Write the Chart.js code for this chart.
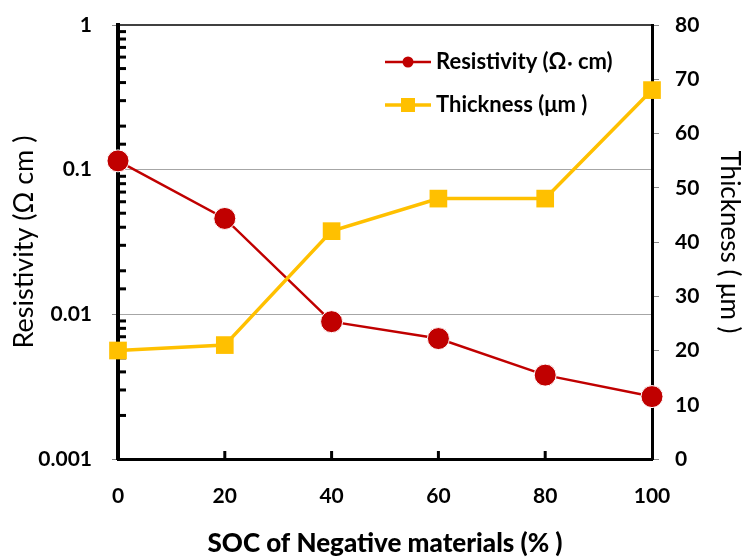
<!DOCTYPE html>
<html>
<head>
<meta charset="utf-8">
<script src="https://cdn.jsdelivr.net/npm/chart.js@4.4.0/dist/chart.umd.min.js"></script>
<style>
  html, body { margin: 0; padding: 0; background: #fff; }
  #wrap { width: 745px; height: 558px; position: relative; }
</style>
</head>
<body>
<div id="wrap"><canvas id="chart" width="745" height="558"></canvas></div>
<script>
// SOC levels and measured values
const socLevels = [0, 20, 40, 60, 80, 100];
const resistivity = [0.115, 0.046, 0.0089, 0.0068, 0.0038, 0.0027];
const thickness = [20, 21, 42, 48, 48, 68];

const seriesNames = ['Resistivity (Ω\u2027 cm)', 'Thickness (μm )'];
const axisTitles = ['SOC of Negative materials (% )', 'Resistivity (Ω cm )', 'Thickness ( μm )'];

const RED = '#C00000';
const GOLD = '#FFC000';
const FONT = 'Lato';

Chart.defaults.font.family = FONT;
Chart.defaults.color = '#000';

function isDecade(v) {
  const l = Math.log10(v);
  return Math.abs(l - Math.round(l)) < 1e-6;
}

// fixed axis width, no extra room reserved for the end labels
function fixWidth(w) {
  return scale => {
    scale.width = w;
    scale.paddingTop = 0;
    scale.paddingBottom = 0;
  };
}

// short tick marks pointing into the plot, plus the top frame line
const innerTicks = {
  id: 'innerTicks',
  beforeDatasetsDraw(chart) {
    const { ctx, chartArea, scales } = chart;
    ctx.save();
    ctx.strokeStyle = '#000';

    // minor log ticks on the left axis
    ctx.lineWidth = 3;
    scales.y.ticks.forEach(t => {
      if (isDecade(t.value)) return;
      const py = scales.y.getPixelForValue(t.value);
      ctx.beginPath();
      ctx.moveTo(chartArea.left, py);
      ctx.lineTo(chartArea.left + 8, py);
      ctx.stroke();
    });

    // x ticks pointing up
    scales.x.ticks.forEach(t => {
      if (t.value === 0 || t.value === 100) return;
      const px = scales.x.getPixelForValue(t.value);
      ctx.beginPath();
      ctx.moveTo(px, chartArea.bottom);
      ctx.lineTo(px, chartArea.bottom - 8);
      ctx.stroke();
    });

    // top frame
    ctx.lineWidth = 1.5;
    ctx.beginPath();
    ctx.moveTo(chartArea.left, chartArea.top);
    ctx.lineTo(chartArea.right, chartArea.top);
    ctx.stroke();
    ctx.restore();
  }
};

// legend drawn inside the plot, top right
const insideLegend = {
  id: 'insideLegend',
  afterDatasetsDraw(chart) {
    const { ctx } = chart;
    const rows = [
      { y: 62, color: RED, marker: 'circle', text: seriesNames[0] },
      { y: 105, color: GOLD, marker: 'rect', text: seriesNames[1] }
    ];
    ctx.save();
    rows.forEach(r => {
      ctx.strokeStyle = r.color;
      ctx.fillStyle = r.color;
      ctx.lineWidth = r.marker === 'circle' ? 2.5 : 3.5;
      ctx.beginPath();
      ctx.moveTo(385, r.y);
      ctx.lineTo(431, r.y);
      ctx.stroke();
      ctx.beginPath();
      if (r.marker === 'circle') {
        ctx.arc(408, r.y, 5.5, 0, Math.PI * 2);
      } else {
        ctx.rect(401, r.y - 7, 14, 14);
      }
      ctx.fill();
      ctx.fillStyle = '#000';
      ctx.font = 'bold 22px ' + FONT;
      ctx.textBaseline = 'middle';
      ctx.textAlign = 'left';
      ctx.fillText(r.text, 436, r.y);
    });
    ctx.restore();
  }
};

const chart = new Chart(document.getElementById('chart'), {
  type: 'line',
  data: {
    datasets: [
      {
        label: seriesNames[1],
        data: socLevels.map((s, i) => ({ x: s, y: thickness[i] })),
        yAxisID: 'y2',
        borderColor: GOLD,
        backgroundColor: GOLD,
        borderWidth: 3.5,
        pointStyle: 'rect',
        pointRadius: 12.5,
        pointBorderWidth: 0,
        clip: false,
        order: 0
      },
      {
        label: seriesNames[0],
        data: socLevels.map((s, i) => ({ x: s, y: resistivity[i] })),
        yAxisID: 'y',
        borderColor: RED,
        backgroundColor: RED,
        borderWidth: 2.5,
        pointStyle: 'circle',
        pointRadius: 11,
        pointBorderColor: '#fff',
        pointBorderWidth: 1,
        clip: false,
        order: 1
      }
    ]
  },
  options: {
    responsive: false,
    animation: false,
    layout: { padding: { top: 25, left: 0, right: 0, bottom: 0 } },
    plugins: {
      legend: { display: false },
      tooltip: { enabled: false }
    },
    scales: {
      x: {
        type: 'linear',
        min: 0,
        max: 100,
        afterFit(scale) { scale.height = 99; },
        grid: { display: false, drawTicks: false },
        border: { display: true, color: '#000', width: 3 },
        ticks: { stepSize: 20, padding: 25, font: { size: 21, weight: 'bold' } },
        title: {
          display: true,
          text: axisTitles[0],
          font: { size: 26, weight: '900', lineHeight: 1.1 },
          padding: { top: 0, bottom: 0 }
        }
      },
      y: {
        type: 'logarithmic',
        position: 'left',
        min: 0.001,
        max: 1,
        afterFit: fixWidth(118),
        grid: {
          drawTicks: true,
          tickLength: 6,
          lineWidth: 1,
          color: c => (isDecade(c.tick.value) && c.tick.value > 0.002 && c.tick.value < 0.5) ? '#A6A6A6' : 'rgba(0,0,0,0)',
          tickColor: c => isDecade(c.tick.value) ? '#888' : 'rgba(0,0,0,0)'
        },
        border: { display: true, color: '#000', width: 4 },
        ticks: {
          autoSkip: false,
          padding: 20,
          font: { size: 21, weight: 'bold' },
          callback: v => isDecade(v) ? String(+v.toPrecision(1)) : ''
        },
        title: {
          display: true,
          text: axisTitles[1],
          font: { size: 27 },
          padding: { top: 8, bottom: 0 }
        }
      },
      y2: {
        type: 'linear',
        position: 'right',
        min: 0,
        max: 80,
        afterFit: fixWidth(93),
        grid: { drawOnChartArea: false, tickLength: 7, color: '#888' },
        border: { display: true, color: '#000', width: 3 },
        ticks: { stepSize: 10, padding: 16, font: { size: 21, weight: 'bold' } },
        title: {
          display: true,
          text: axisTitles[2],
          font: { size: 26 },
          padding: { top: 0, bottom: 0 }
        }
      }
    }
  },
  plugins: [innerTicks, insideLegend]
});
</script>
</body>
</html>
